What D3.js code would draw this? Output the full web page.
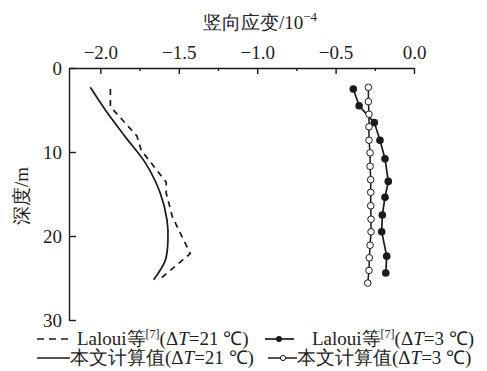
<!DOCTYPE html>
<html>
<head>
<meta charset="utf-8">
<script src="https://cdn.jsdelivr.net/npm/d3@7"></script>
<style>body{margin:0;background:#fff}</style>
</head>
<body>
<svg id="chart" width="487" height="371" font-family="Liberation Serif"></svg>
<script>
// Axis ticks
const xTicks = [-2.0, -1.5, -1.0, -0.5, 0.0];
const xMinorTicks = [-1.75, -1.25, -0.75, -0.25];
const yTicks = [0, 10, 20, 30];

// Laloui et al., ΔT = 21 ℃ (measured, dashed)
const lalouiHotDepth  = [2.5, 4.6, 8.1, 9.8, 13.6, 14.9, 17.7, 22.1, 25.1];
const lalouiHotStrain = [-1.936, -1.936, -1.767, -1.739, -1.580, -1.580, -1.541, -1.427, -1.618];

// Computed, ΔT = 21 ℃ (solid curve)
const calcHotDepth  = [2.3, 5.0, 8.2, 11.3, 14.9, 18.1, 20.5, 22.9, 25.2];
const calcHotStrain = [-2.064, -1.968, -1.841, -1.713, -1.618, -1.575, -1.569, -1.586, -1.660];

// Laloui et al., ΔT = 3 ℃ (filled dots)
const lalouiColdDepth  = [2.5, 4.5, 6.5, 8.6, 10.8, 13.5, 15.4, 17.5, 19.5, 22.4, 24.4];
const lalouiColdStrain = [-0.387, -0.350, -0.253, -0.217, -0.185, -0.164, -0.185, -0.202, -0.206, -0.174, -0.180];

// Computed, ΔT = 3 ℃ (open circles)
const calcColdDepth  = [2.3, 4.0, 5.5, 7.0, 8.6, 10.1, 11.7, 13.3, 14.8, 16.4, 18.0, 19.5, 21.1, 22.6, 24.1, 25.6];
const calcColdStrain = [-0.291, -0.291, -0.287, -0.287, -0.287, -0.280, -0.280, -0.276, -0.276, -0.276, -0.274, -0.274, -0.280, -0.285, -0.287, -0.295];

const ink = '#1a1a1a';
const textInk = '#222';
const fontSize = 19;
const serifFont = 'Liberation Serif';

const svg = d3.select('#chart');

const x = d3.scaleLinear().domain([-2.2, 0]).range([69, 414]);
const y = d3.scaleLinear().domain([0, 30]).range([68, 320]);

const zip = (d, s) => d.map((v, i) => ({ depth: v, strain: s[i] }));

// Top axis: major ticks with labels, minor ticks without
const xAxisG = svg.append('g').attr('transform', `translate(0,${y(0)})`)
  .call(d3.axisTop(x).tickValues(xTicks).tickFormat(d3.format('.1f'))
    .tickSizeInner(-6).tickSizeOuter(0).tickPadding(9));
const xMinorG = svg.append('g').attr('transform', `translate(0,${y(0)})`)
  .call(d3.axisTop(x).tickValues(xMinorTicks).tickFormat('')
    .tickSizeInner(-3).tickSizeOuter(0));
xMinorG.select('.domain').remove();

// Left axis
const yAxisG = svg.append('g').attr('transform', `translate(${x(-2.2)},0)`)
  .call(d3.axisLeft(y).tickValues(yTicks).tickFormat(d3.format('d'))
    .tickSizeInner(-7).tickSizeOuter(0).tickPadding(7));

[xAxisG, xMinorG, yAxisG].forEach(g => g.attr('font-family', serifFont).attr('font-size', fontSize));
svg.selectAll('.domain, .tick line').attr('stroke', ink).attr('stroke-width', 1.4);
svg.selectAll('.tick text')
  .attr('font-family', serifFont)
  .attr('font-size', fontSize)
  .attr('fill', textInk);

// Axis titles
const title = svg.append('text').attr('x', 260).attr('y', 29)
  .attr('text-anchor', 'middle').attr('font-size', fontSize)
  .attr('fill', textInk).attr('font-family', serifFont);
title.append('tspan').text('竖向应变/10');
title.append('tspan').attr('dy', -8).attr('font-size', 13).text('−4');

svg.append('text')
  .attr('transform', 'translate(28,196) rotate(-90)')
  .attr('text-anchor', 'middle').attr('font-size', fontSize)
  .attr('fill', textInk).attr('font-family', serifFont)
  .text('深度/m');

// Series
const lineGen = d3.line().x(d => x(d.strain)).y(d => y(d.depth));

svg.append('path').datum(zip(lalouiHotDepth, lalouiHotStrain))
  .attr('fill', 'none').attr('stroke', ink).attr('stroke-width', 1.7)
  .attr('stroke-dasharray', '6,5')
  .attr('d', lineGen);

svg.append('path').datum(zip(calcHotDepth, calcHotStrain))
  .attr('fill', 'none').attr('stroke', ink).attr('stroke-width', 1.7)
  .attr('d', d3.line().x(d => x(d.strain)).y(d => y(d.depth)).curve(d3.curveCatmullRom));

const cold = zip(lalouiColdDepth, lalouiColdStrain);
svg.append('path').datum(cold)
  .attr('fill', 'none').attr('stroke', ink).attr('stroke-width', 1.7)
  .attr('d', lineGen);
svg.append('g').selectAll('circle').data(cold).join('circle')
  .attr('cx', d => x(d.strain)).attr('cy', d => y(d.depth)).attr('r', 3.8)
  .attr('fill', ink);

const calcCold = zip(calcColdDepth, calcColdStrain);
svg.append('path').datum(calcCold)
  .attr('fill', 'none').attr('stroke', ink).attr('stroke-width', 1.5)
  .attr('d', lineGen);
svg.append('g').selectAll('circle').data(calcCold).join('circle')
  .attr('cx', d => x(d.strain)).attr('cy', d => y(d.depth)).attr('r', 3.3)
  .attr('fill', '#fff').attr('stroke', ink).attr('stroke-width', 1);

// Legend
function legendLabel(xPos, yPos, prefix, withRef, dT) {
  const t = svg.append('text').attr('x', xPos).attr('y', yPos)
    .attr('font-size', fontSize).attr('fill', textInk).attr('font-family', serifFont);
  t.append('tspan').text(prefix);
  if (withRef) {
    t.append('tspan').attr('dy', -7).attr('font-size', 12).text('[7]');
    t.append('tspan').attr('dy', 7).text('(Δ');
  } else {
    t.append('tspan').text('(Δ');
  }
  t.append('tspan').attr('font-style', 'italic').text('T');
  t.append('tspan').text(`=${dT} ℃)`);
}

svg.append('line').attr('x1', 37).attr('x2', 69).attr('y1', 339).attr('y2', 339)
  .attr('stroke', ink).attr('stroke-width', 1.5).attr('stroke-dasharray', '7,5');
legendLabel(77, 345, 'Laloui等', true, 21);

svg.append('line').attr('x1', 265).attr('x2', 294).attr('y1', 339).attr('y2', 339)
  .attr('stroke', ink).attr('stroke-width', 1.7);
svg.append('circle').attr('cx', 279).attr('cy', 339).attr('r', 3).attr('fill', ink);
legendLabel(312, 345, 'Laloui等', true, 3);

svg.append('line').attr('x1', 37).attr('x2', 70).attr('y1', 358).attr('y2', 358)
  .attr('stroke', ink).attr('stroke-width', 1.7);
legendLabel(70, 364, '本文计算值', false, 21);

svg.append('line').attr('x1', 268).attr('x2', 297).attr('y1', 358).attr('y2', 358)
  .attr('stroke', ink).attr('stroke-width', 1.5);
svg.append('circle').attr('cx', 283).attr('cy', 358).attr('r', 2.6)
  .attr('fill', '#fff').attr('stroke', ink).attr('stroke-width', 1);
legendLabel(297, 364, '本文计算值', false, 3);
</script>
</body>
</html>
